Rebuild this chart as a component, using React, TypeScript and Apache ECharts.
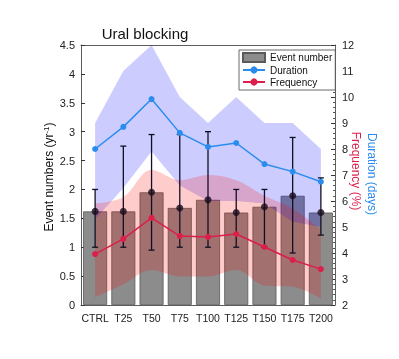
import React, { useEffect, useRef } from "react";
import * as echarts from "echarts";

const categories = ["CTRL", "T25", "T50", "T75", "T100", "T125", "T150", "T175", "T200"];
// Event numbers (left axis, yr^-1)
const eventNumber = [1.62, 1.62, 1.95, 1.68, 1.82, 1.6, 1.7, 1.89, 1.6];
const eventLow = [1.0, 1.0, 0.95, 1.0, 1.0, 1.0, 1.0, 0.9, 1.21];
const eventHigh = [2.0, 2.75, 2.95, 2.95, 3.0, 2.0, 2.0, 2.9, 2.2];
// Duration (right axis, days)
const duration = [8.0, 8.85, 9.92, 8.62, 8.08, 8.23, 7.42, 7.13, 6.74];
const durationLow = [5.3, 6.5, 7.9, 6.6, 6.0, 6.0, 5.9, 5.2, 5.0];
const durationHigh = [9.0, 11.0, 12.0, 10.0, 9.0, 10.0, 9.0, 9.0, 8.0];
// Frequency (right axis, %)
const frequency = [3.96, 4.54, 5.35, 4.65, 4.62, 4.73, 4.23, 3.73, 3.38];
const frequencyLow = [2.3, 2.8, 3.35, 3.1, 3.1, 3.35, 2.75, 2.7, 2.25];
const frequencyHigh = [5.9, 6.15, 7.2, 6.8, 7.0, 6.8, 6.2, 5.7, 4.9];

const leftTicks = { min: 0, max: 4.5, interval: 0.5 };
const rightTicks = { min: 2, max: 12, interval: 1 };

const FONT = "Liberation Sans";
const BLUE = "#2b8cef";
const RED = "#dc1e4b";
const AXIS = "#333";

export default function App() {
  const ref = useRef<HTMLDivElement>(null);
  useEffect(() => {
    document.body.style.margin = "0";
    const chart = echarts.init(ref.current!, null, { renderer: "svg" });
    const diff = (hi: number[], lo: number[]) => hi.map((h, i) => +(h - lo[i]).toFixed(3));
    const option: any = {
      animation: false,
      textStyle: { fontFamily: FONT },
      grid: { left: 81, right: 64, top: 45, bottom: 54, containLabel: false, outerBoundsMode: "none" },
      legend: {
        data: [
          { name: "Event number", icon: "rect" },
          { name: "Duration" },
          { name: "Frequency" },
        ],
        orient: "vertical",
        left: 239,
        top: 50,
        itemWidth: 22,
        itemHeight: 9,
        itemGap: 2,
        padding: [2, 3, 3, 3],
        borderColor: "#444",
        borderWidth: 0.8,
        backgroundColor: "#fff",
        textStyle: { fontSize: 10, color: "#111", fontFamily: FONT },
        z: 20,
      },
      xAxis: [
        {
          type: "category",
          data: categories,
          position: "bottom",
          axisLine: { lineStyle: { color: AXIS, width: 0.8 } },
          axisTick: { inside: true, alignWithLabel: true, length: 4, lineStyle: { color: AXIS } },
          axisLabel: { interval: 0, fontSize: 10.5, color: "#222", margin: 7, fontFamily: FONT },
        },
        {
          type: "category",
          data: categories,
          position: "top",
          axisLine: { lineStyle: { color: AXIS, width: 0.8 } },
          axisTick: { inside: true, alignWithLabel: true, interval: 0, length: 4, lineStyle: { color: AXIS } },
          axisLabel: { show: false },
        },
      ],
      yAxis: [
        {
          type: "value",
          position: "left",
          ...leftTicks,
          axisLine: { show: true, lineStyle: { color: AXIS, width: 0.8 } },
          axisTick: { show: true, inside: true, length: 4, lineStyle: { color: AXIS } },
          axisLabel: { fontSize: 11, color: "#222", margin: 6, fontFamily: FONT },
          splitLine: { show: false },
        },
        {
          type: "value",
          position: "right",
          ...rightTicks,
          axisLine: { show: true, lineStyle: { color: AXIS, width: 0.8 } },
          axisTick: { show: true, inside: true, length: 4, lineStyle: { color: AXIS } },
          minorTick: { show: true, splitNumber: 5, length: 2, lineStyle: { color: "#555" } },
          axisLabel: { fontSize: 11, color: "#222", margin: 7, fontFamily: FONT },
          splitLine: { show: false },
          minorSplitLine: { show: false },
        },
      ],
      graphic: [
        {
          type: "text",
          x: 145,
          y: 33,
          style: { text: "Ural blocking", fontSize: 15, fill: "#111", align: "center", verticalAlign: "middle", fontFamily: FONT },
        },
        {
          type: "text",
          x: 49,
          y: 177,
          rotation: Math.PI / 2,
          style: {
            text: "{a|Event numbers (yr}{s|-1}{a|)}",
            align: "center",
            verticalAlign: "middle",
            fill: "#111",
            fontFamily: FONT,
            rich: {
              a: { fontSize: 12, fontFamily: FONT, fill: "#111", lineHeight: 14 },
              s: { fontSize: 8, fontFamily: FONT, fill: "#111", verticalAlign: "top", lineHeight: 14 },
            },
          },
        },
        {
          type: "text",
          x: 356,
          y: 171,
          rotation: -Math.PI / 2,
          style: { text: "Frequency (%)", fontSize: 12, fill: RED, align: "center", verticalAlign: "middle", fontFamily: FONT },
        },
        {
          type: "text",
          x: 372,
          y: 174,
          rotation: -Math.PI / 2,
          style: { text: "Duration (days)", fontSize: 12, fill: BLUE, align: "center", verticalAlign: "middle", fontFamily: FONT },
        },
      ],
      series: [
        {
          name: "Event number",
          type: "bar",
          xAxisIndex: 0,
          yAxisIndex: 0,
          data: eventNumber,
          barCategoryGap: "15%",
          itemStyle: { color: "#8c8c8c", borderColor: "#5a5a5a", borderWidth: 0.8 },
          z: 1,
        },
        {
          name: "durLo",
          type: "line",
          yAxisIndex: 1,
          stack: "dur",
          data: durationLow,
          symbol: "none",
          lineStyle: { opacity: 0 },
          silent: true,
          z: 2,
        },
        {
          name: "durBand",
          type: "line",
          yAxisIndex: 1,
          stack: "dur",
          data: diff(durationHigh, durationLow),
          symbol: "none",
          lineStyle: { opacity: 0 },
          areaStyle: { color: "rgba(0,0,255,0.2)", opacity: 1 },
          silent: true,
          z: 2,
        },
        {
          name: "freqLo",
          type: "line",
          yAxisIndex: 1,
          stack: "freq",
          data: frequencyLow,
          symbol: "none",
          smooth: 0.35,
          lineStyle: { opacity: 0 },
          silent: true,
          z: 2,
        },
        {
          name: "freqBand",
          type: "line",
          yAxisIndex: 1,
          stack: "freq",
          data: diff(frequencyHigh, frequencyLow),
          symbol: "none",
          smooth: 0.35,
          lineStyle: { opacity: 0 },
          areaStyle: { color: "rgba(255,0,0,0.2)", opacity: 1 },
          silent: true,
          z: 2,
        },
        {
          name: "errors",
          type: "custom",
          xAxisIndex: 0,
          yAxisIndex: 0,
          data: categories.map((_, i) => [i, eventLow[i], eventHigh[i]]),
          renderItem: (params: any, api: any) => {
            const lo = api.coord([api.value(0), api.value(1)]);
            const hi = api.coord([api.value(0), api.value(2)]);
            const cap = 3;
            const style = { stroke: "#120f24", lineWidth: 1.3 };
            return {
              type: "group",
              children: [
                { type: "line", shape: { x1: lo[0], y1: lo[1], x2: hi[0], y2: hi[1] }, style },
                { type: "line", shape: { x1: lo[0] - cap, y1: lo[1], x2: lo[0] + cap, y2: lo[1] }, style },
                { type: "line", shape: { x1: hi[0] - cap, y1: hi[1], x2: hi[0] + cap, y2: hi[1] }, style },
              ],
            };
          },
          z: 3,
        },
        {
          name: "means",
          type: "scatter",
          xAxisIndex: 0,
          yAxisIndex: 0,
          data: eventNumber,
          symbolSize: 7,
          itemStyle: { color: "#180c1c" },
          z: 4,
        },
        {
          name: "Duration",
          type: "line",
          yAxisIndex: 1,
          data: duration,
          symbol: "circle",
          symbolSize: 6,
          lineStyle: { color: BLUE, width: 1.5 },
          itemStyle: { color: BLUE },
          z: 5,
        },
        {
          name: "Frequency",
          type: "line",
          yAxisIndex: 1,
          data: frequency,
          symbol: "circle",
          symbolSize: 6,
          lineStyle: { color: RED, width: 1.5 },
          itemStyle: { color: RED },
          z: 5,
        },
      ],
    };
    chart.setOption(option);
    return () => chart.dispose();
  }, []);
  return <div ref={ref} style={{ position: "fixed", left: 0, top: 0, width: 399, height: 359 }} />;
}
